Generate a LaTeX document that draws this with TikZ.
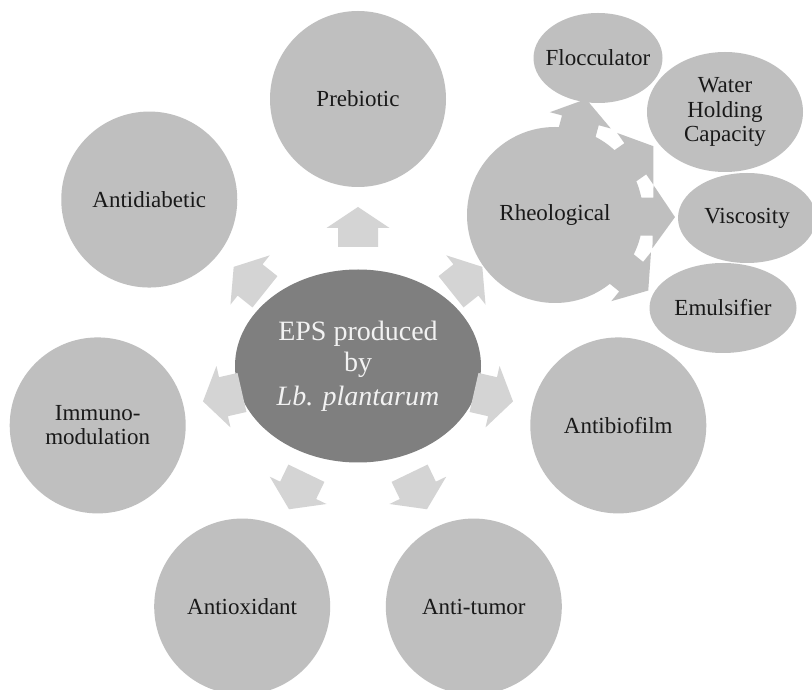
\documentclass[tikz,border=0pt]{standalone}
\usepackage{fontspec}
\setmainfont{Liberation Serif}
\usetikzlibrary{shapes.geometric}
\definecolor{circ}{RGB}{191,191,191}
\definecolor{arr}{RGB}{212,212,212}
\definecolor{corefill}{RGB}{127,127,127}
\definecolor{ink}{RGB}{25,25,25}
\tikzset{
  petal/.style={circle, fill=circ, minimum size=176pt, inner sep=0pt, align=center, text=ink,
    font=\fontsize{23}{24}\selectfont},
  subitem/.style={ellipse, fill=circ, inner xsep=-12pt, inner ysep=0pt, align=center, text=ink,
    font=\fontsize{23}{24.5}\selectfont},
  corenode/.style={ellipse, fill=corefill, minimum width=246pt, minimum height=193pt, inner sep=0pt,
    align=center, text=white!95!black, font=\fontsize{28}{31}\selectfont},
}
\begin{document}
\begin{tikzpicture}[x=1pt,y=1pt]
\clip (0,0) rectangle (812,689);
\fill[white] (0,0) rectangle (812,689);

% centre
\node[corenode] (core) at (358,323) {EPS produced\\by\\[3pt]\textit{Lb. plantarum}};

% block arrows from Rheological (drawn first, beneath the circle and its text)
\coordinate (rheoc) at (555,474);
\foreach \a in {75,35,-1,-39}{
  \fill[circ, shift={(rheoc)}, rotate=\a]
    (120,0) -- (98,31.5) -- (98,19) -- (40,19) -- (40,-19) -- (98,-19) -- (98,-31.5) -- cycle;
}

% outer circles
\node[petal] (pre)  at ([shift={(90:267)}]core.center) {Prebiotic};
\node[petal] (dia)  at ([shift={(141.43:267)}]core.center) {Antidiabetic};
\node[petal] (imm)  at ([shift={(192.86:267)}]core.center) {Immuno-\\modulation};
\node[petal] (aox)  at ([shift={(244.29:267)}]core.center) {Antioxidant};
\node[petal] (atu)  at ([shift={(295.71:267)}]core.center) {Anti-tumor};
\node[petal] (abf)  at ([shift={(347.14:267)}]core.center) {Antibiofilm};
\node[petal] (rheo) at (rheoc) {Rheological};

% block arrows from the centre
\foreach \a in {90,141.43,192.86,244.29,295.71,347.14,38.57}{
  \fill[arr, shift={(core.center)}, rotate=\a]
    (159,0) -- (138,31.5) -- (138,20) -- (119,20) -- (119,-20) -- (138,-20) -- (138,-31.5) -- cycle;
}

% sub items
\node[subitem, minimum width=129pt, minimum height=90pt] (floc) at (598,631) {Flocculator};
\node[subitem, minimum width=156pt, minimum height=120pt] (whc) at (725,577) {Water\\Holding\\Capacity};
\node[subitem, minimum width=138pt, minimum height=90pt] (visc) at (747,471) {Viscosity};
\node[subitem, minimum width=147pt, minimum height=90pt] (emul) at (723,381) {Emulsifier};
\end{tikzpicture}
\end{document}
